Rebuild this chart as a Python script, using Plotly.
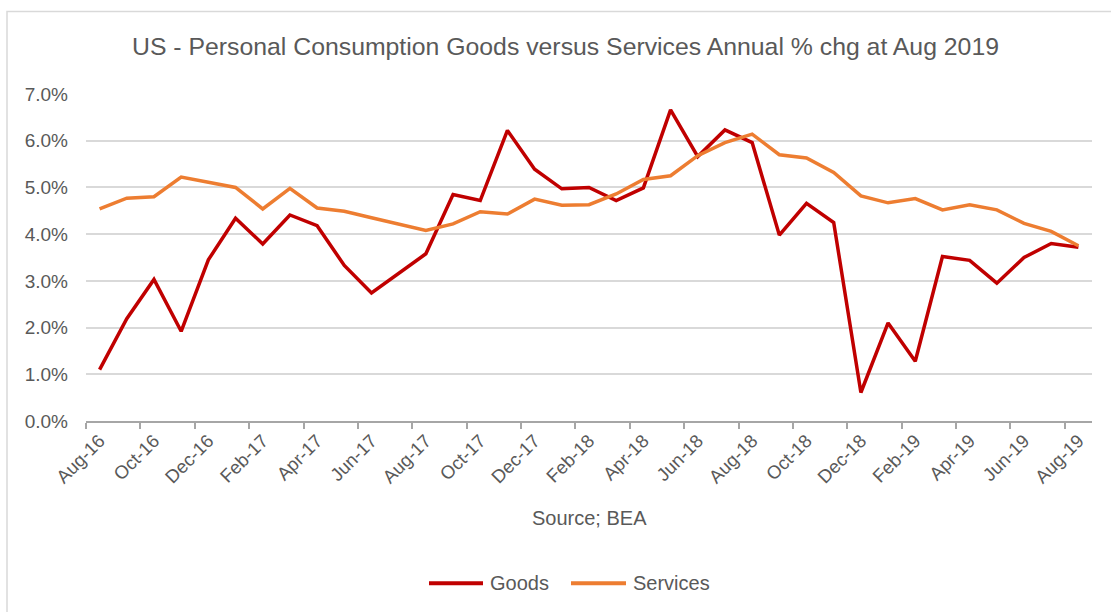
import plotly.graph_objects as go

months = [
    "Aug-16", "Sep-16", "Oct-16", "Nov-16", "Dec-16", "Jan-17", "Feb-17", "Mar-17",
    "Apr-17", "May-17", "Jun-17", "Jul-17", "Aug-17", "Sep-17", "Oct-17", "Nov-17",
    "Dec-17", "Jan-18", "Feb-18", "Mar-18", "Apr-18", "May-18", "Jun-18", "Jul-18",
    "Aug-18", "Sep-18", "Oct-18", "Nov-18", "Dec-18", "Jan-19", "Feb-19", "Mar-19",
    "Apr-19", "May-19", "Jun-19", "Jul-19", "Aug-19",
]

goods = [
    1.10, 2.19, 3.03, 1.92, 3.45, 4.34, 3.79, 4.41, 4.18, 3.33, 2.74, 3.15,
    3.58, 4.85, 4.72, 6.22, 5.39, 4.97, 5.00, 4.72, 4.99, 6.66, 5.66, 6.23,
    5.96, 3.98, 4.66, 4.25, 0.61, 2.10, 1.28, 3.52, 3.44, 2.95, 3.50, 3.80, 3.72,
]

services = [
    4.54, 4.77, 4.80, 5.22, 5.11, 5.00, 4.54, 4.98, 4.56, 4.49, 4.35, 4.21,
    4.08, 4.22, 4.48, 4.43, 4.75, 4.62, 4.63, 4.86, 5.17, 5.25, 5.68, 5.96,
    6.14, 5.70, 5.63, 5.32, 4.82, 4.67, 4.76, 4.52, 4.63, 4.52, 4.23, 4.06, 3.75,
]

series_names = ["Goods", "Services"]
series_colors = ["#C00000", "#ED7D31"]

title_text = "US - Personal Consumption Goods versus Services Annual % chg at Aug 2019"
source_text = "Source; BEA"

FONT = "Liberation Sans, Arial, Helvetica, sans-serif"
TEXT_GREY = "#595959"
GRID_GREY = "#d9d9d9"
AXIS_GREY = "#a6a6a6"

W, H = 1111, 612
L, R, T, B = 86, 19, 93.5, 191.3
pw, ph = W - L - R, H - T - B


def px_x(p):
    """pixel column -> paper x"""
    return (p - L) / pw


def px_y(p):
    """pixel row (from top) -> paper y"""
    return (H - B - p) / ph


fig = go.Figure()
for name, vals, col in zip(series_names, [goods, services], series_colors):
    fig.add_trace(go.Scatter(
        x=months, y=vals, name=name, mode="lines",
        line=dict(color=col, width=3.5),
    ))

shapes = [
    # light frame around the whole chart
    dict(type="rect", xref="paper", yref="paper",
         x0=px_x(7), x1=px_x(W + 5), y0=px_y(H + 5), y1=px_y(11),
         line=dict(color=GRID_GREY, width=1.5), fillcolor="rgba(0,0,0,0)",
         layer="below"),
]
annotations = [
    dict(text=source_text, xref="paper", yref="paper",
         x=0.5, y=px_y(518), xanchor="center", yanchor="middle",
         showarrow=False, font=dict(size=20, color=TEXT_GREY, family=FONT)),
]

# legend: line sample followed by its label
legend_y = px_y(583)
legend_items = [(429, 483, 488), (571, 626, 631)]
for (lx0, lx1, tx), name, col in zip(legend_items, series_names, series_colors):
    shapes.append(dict(type="line", xref="paper", yref="paper",
                       x0=px_x(lx0), x1=px_x(lx1), y0=legend_y, y1=legend_y,
                       line=dict(color=col, width=4)))
    annotations.append(dict(text=name, xref="paper", yref="paper",
                            x=px_x(tx), y=legend_y, xanchor="left", yanchor="middle",
                            showarrow=False,
                            font=dict(size=20, color=TEXT_GREY, family=FONT)))

fig.update_layout(
    width=W, height=H,
    margin=dict(l=L, r=R, t=T, b=B),
    paper_bgcolor="white", plot_bgcolor="white",
    font=dict(family=FONT, color=TEXT_GREY),
    title=dict(
        text=title_text, x=565.5 / W, xanchor="center", xref="container",
        y=1 - 46 / H, yanchor="middle",
        font=dict(size=24.8, color=TEXT_GREY, family=FONT),
    ),
    showlegend=False,
    shapes=shapes,
    annotations=annotations,
    xaxis=dict(
        type="category", tickmode="linear", tick0=0, dtick=2,
        tickson="boundaries", ticks="outside", ticklen=6, tickcolor=AXIS_GREY,
        tickwidth=1.5,
        showline=True, linecolor=AXIS_GREY, linewidth=1.5,
        showgrid=False, tickangle=-45,
        tickfont=dict(size=18.5, color=TEXT_GREY),
        range=[-0.5, len(months) - 0.5],
    ),
    yaxis=dict(
        range=[0, 7], tickmode="linear", tick0=0, dtick=1,
        tickformat=".1f", ticksuffix="%",
        showgrid=True, gridcolor=GRID_GREY, gridwidth=1.5,
        zeroline=False, showline=False,
        tickfont=dict(size=19, color=TEXT_GREY),
        ticklabelstandoff=17,
    ),
)

fig.write_html("out.html")
